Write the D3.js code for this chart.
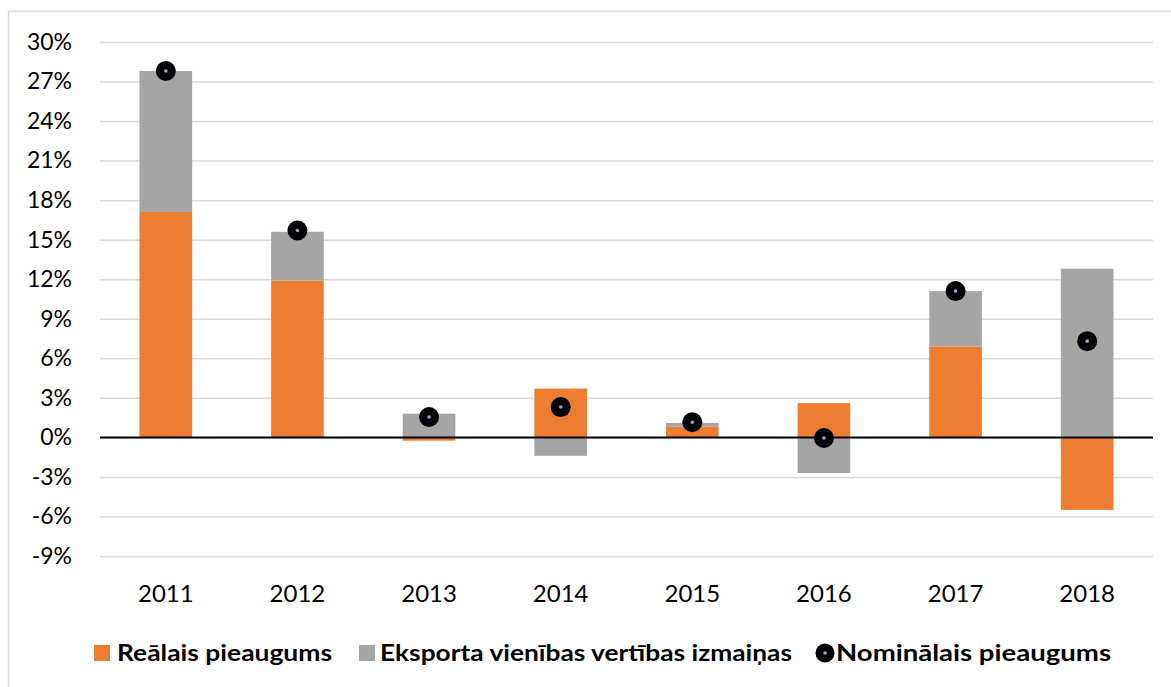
<!DOCTYPE html>
<html>
<head>
<meta charset="utf-8">
<script src="https://cdn.jsdelivr.net/npm/d3@7"></script>
<style>
  html, body { margin: 0; padding: 0; background: #fff; }
  svg { display: block; }
</style>
</head>
<body>
<svg id="chart" width="1171" height="687"></svg>
<script>
const years = ["2011","2012","2013","2014","2015","2016","2017","2018"];
const realGrowth = [17.1, 11.9, -0.25, 3.7, 0.8, 2.6, 6.9, -5.5];
const unitValueChange = [10.7, 3.7, 1.8, -1.4, 0.3, -2.7, 4.2, 12.8];
const nominalGrowth = [27.8, 15.7, 1.55, 2.3, 1.15, -0.05, 11.1, 7.3];
const yTicks = [-9, -6, -3, 0, 3, 6, 9, 12, 15, 18, 21, 24, 27, 30];
const seriesNames = ["Reālais pieaugums", "Eksporta vienības vertības izmaiņas", "Nominālais pieaugums"];
const colors = { real: "#ED7D31", exp: "#A5A5A5", dot: "#000000", dotCenter: "#8EA9DB" };

(function () {
const svg = d3.select("#chart");
const font = "Lato, 'Open Sans', sans-serif";

const pLeft = 100, pRight = 1153, pTop = 42, pBottom = 556;
const x = d3.scaleBand().domain(years).range([pLeft, pRight]).paddingInner(0.6).paddingOuter(0.3);
const y = d3.scaleLinear().domain([-9, 30]).range([pBottom, pTop]);

// outer border
svg.append("rect").attr("x", 8.5).attr("y", 11.5).attr("width", 1200).attr("height", 700)
  .attr("fill", "none").attr("stroke", "#d9d9d9").attr("stroke-width", 1.5);

// y axis + gridlines
const yAxis = svg.append("g").attr("transform", `translate(${pLeft},0)`)
  .call(d3.axisLeft(y).tickValues(yTicks).tickFormat(d => d + "%")
    .tickSizeInner(-(pRight - pLeft)).tickSizeOuter(0).tickPadding(28));
yAxis.select(".domain").remove();
yAxis.selectAll(".tick line").attr("stroke", "#d9d9d9").attr("stroke-width", 1.5);
yAxis.selectAll(".tick text").attr("font-family", font).attr("font-size", 23).attr("fill", "#000");

// stacked bars
const rows = years.map((yr, i) => ({ year: yr, real: realGrowth[i], exp: unitValueChange[i] }));
const stack = d3.stack().keys(["real", "exp"]).offset(d3.stackOffsetDiverging);
const stacked = stack(rows);
svg.append("g").selectAll("g").data(stacked).join("g")
  .attr("fill", d => colors[d.key])
  .selectAll("rect").data(d => d).join("rect")
  .attr("x", d => x(d.data.year))
  .attr("width", x.bandwidth())
  .attr("y", d => y(Math.max(d[0], d[1])))
  .attr("height", d => Math.abs(y(d[0]) - y(d[1])));

// zero line
svg.append("line").attr("x1", pLeft).attr("x2", pRight).attr("y1", y(0)).attr("y2", y(0))
  .attr("stroke", "#000").attr("stroke-width", 2);

// x axis labels
const xAxis = svg.append("g").attr("transform", `translate(0,${pBottom})`)
  .call(d3.axisBottom(x).tickSize(0).tickPadding(29));
xAxis.select(".domain").remove();
xAxis.selectAll(".tick text").attr("font-family", font).attr("font-size", 24).attr("fill", "#000");

// nominal dots
const dots = svg.append("g").selectAll("g").data(years.map((yr, i) => ({ year: yr, v: nominalGrowth[i] })))
  .join("g").attr("transform", d => `translate(${x(d.year) + x.bandwidth() / 2},${y(d.v)})`);
dots.append("circle").attr("r", 10).attr("fill", colors.dot);
dots.append("circle").attr("r", 1.8).attr("fill", colors.dotCenter);

// legend
const leg = svg.append("g").attr("font-family", font).attr("font-weight", "bold").attr("font-size", 23).attr("fill", "#000");
leg.append("rect").attr("x", 94).attr("y", 645).attr("width", 16).attr("height", 16).attr("fill", colors.real);
leg.append("text").attr("x", 117).attr("y", 661).text(seriesNames[0])
  .attr("textLength", 215).attr("lengthAdjust", "spacingAndGlyphs");
leg.append("rect").attr("x", 359).attr("y", 645).attr("width", 16).attr("height", 16).attr("fill", colors.exp);
leg.append("text").attr("x", 380).attr("y", 661).text(seriesNames[1])
  .attr("textLength", 412).attr("lengthAdjust", "spacingAndGlyphs");
leg.append("circle").attr("cx", 825).attr("cy", 653).attr("r", 9.5).attr("fill", colors.dot);
leg.append("circle").attr("cx", 825).attr("cy", 653).attr("r", 1.8).attr("fill", colors.dotCenter);
leg.append("text").attr("x", 836).attr("y", 661).text(seriesNames[2])
  .attr("textLength", 275).attr("lengthAdjust", "spacingAndGlyphs");
})();
</script>
</body>
</html>
